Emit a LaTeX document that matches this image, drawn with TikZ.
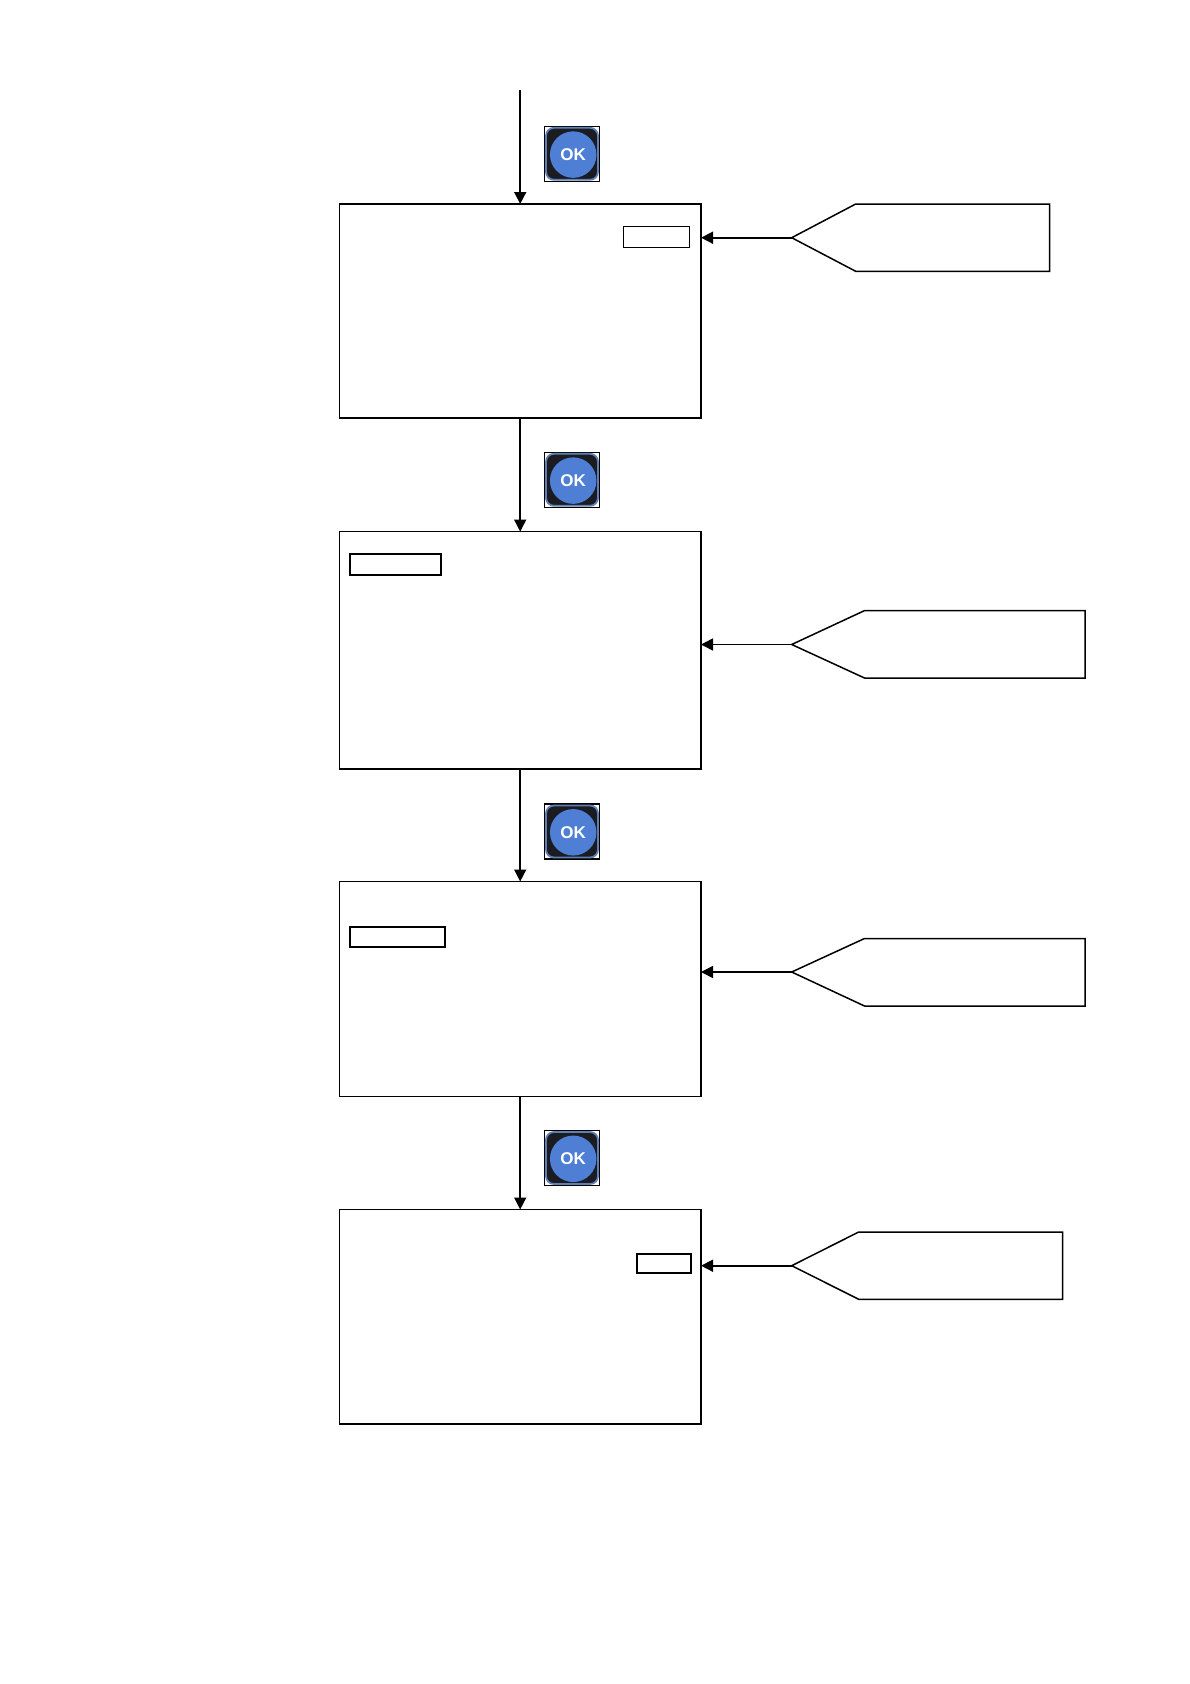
\documentclass[tikz,border=0pt]{standalone}
\usepackage{fontspec}
\setmainfont{Liberation Sans}
\usetikzlibrary{arrows.meta}
\definecolor{okblue}{HTML}{4E7FD5}
\definecolor{okedge}{HTML}{5F7FB5}
\definecolor{okdark}{HTML}{1B1C22}
\tikzset{
  screen/.style={draw=black,line width=1.4pt,fill=white,anchor=north west,inner sep=0pt,outer sep=0pt},
  hilite/.style={draw=black,line width=1.8pt,fill=white,anchor=north west,inner sep=0pt,outer sep=0pt},
  tagline/.style={draw=black,line width=1.5pt,line join=miter},
  flow/.style={draw=black,line width=1.6pt,-{Triangle[length=12pt,width=12pt]}},
  okframe/.style={draw=black,line width=1.1pt,fill=white,minimum width=55pt,minimum height=55pt,inner sep=0pt,outer sep=0pt},
  okback/.style={draw=okedge,line width=1.8pt,fill=okdark,rounded corners=8pt,minimum width=52pt,minimum height=52pt,inner sep=0pt,outer sep=0pt},
  okdisc/.style={circle,fill=okblue,minimum size=46.5pt,inner sep=0pt,outer sep=0pt,text=white,font=\bfseries\fontsize{17}{17}\selectfont},
}
\newcommand{\okicon}[3]{%
  \node[okframe] (#1f) at (#2,#3) {};
  \node[okback] (#1b) at (#2,#3) {};
  \node[okdisc,xshift=1.2pt,yshift=-0.8pt] (#1d) at (#2,#3) {OK};
}
\begin{document}
\begin{tikzpicture}[x=1pt,y=-1pt]
\useasboundingbox (0,0) rectangle (1190,1684);
\fill[white] (0,0) rectangle (1190,1684);

% screens
\node[screen,minimum width=361.6pt,minimum height=214pt] (s1) at (339.4,204) {};
\node[screen,minimum width=361.6pt,minimum height=237.4pt] (s2) at (339.4,531.6) {};
\node[screen,minimum width=361.6pt,minimum height=215pt] (s3) at (339.4,881.5) {};
\node[screen,minimum width=361.6pt,minimum height=214.5pt] (s4) at (339.4,1209.5) {};

% highlighted fields
\node[hilite,line width=1pt,minimum width=66pt,minimum height=21.5pt] (h1) at (623.5,226) {};
\node[hilite,minimum width=90.7pt,minimum height=21.3pt] (h2) at (350.3,553.7) {};
\node[hilite,minimum width=95pt,minimum height=20.5pt] (h3) at (350.3,926.6) {};
\node[hilite,minimum width=54pt,minimum height=19.6pt] (h4) at (637.3,1253.7) {};

% callout tags
\coordinate (t1) at (791.7,237.7);
\coordinate (t2) at (791.7,644.5);
\coordinate (t3) at (791.7,972);
\coordinate (t4) at (791.7,1265.7);
\draw[tagline] (t1) -- (855.7,204) -- (1049.7,204) -- (1049.7,271.3) -- (855.7,271.3) -- cycle;
\draw[tagline] (t2) -- (864.5,610.6) -- (1085,610.6) -- (1085,678) -- (864.5,678) -- cycle;
\draw[tagline] (t3) -- (864.5,938.5) -- (1085,938.5) -- (1085,1006) -- (864.5,1006) -- cycle;
\draw[tagline] (t4) -- (858.7,1232) -- (1062.7,1232) -- (1062.7,1299.3) -- (858.7,1299.3) -- cycle;

% connectors
\coordinate (start) at (520.2,90);
\draw[flow] (start) -- (s1.north);
\draw[flow] (s1.south) -- (s2.north);
\draw[flow] (s2.south) -- (s3.north);
\draw[flow] (s3.south) -- (s4.north);
\draw[flow] (t1) -- (t1 -| s1.east);
\draw[flow] (t2) -- (t2 -| s2.east);
\draw[flow] (t3) -- (t3 -| s3.east);
\draw[flow] (t4) -- (t4 -| s4.east);

% OK icons
\okicon{ka}{572}{153.8}
\okicon{kb}{572}{479.8}
\okicon{kc}{572}{831.5}
\okicon{kd}{572}{1158}
\end{tikzpicture}
\end{document}
